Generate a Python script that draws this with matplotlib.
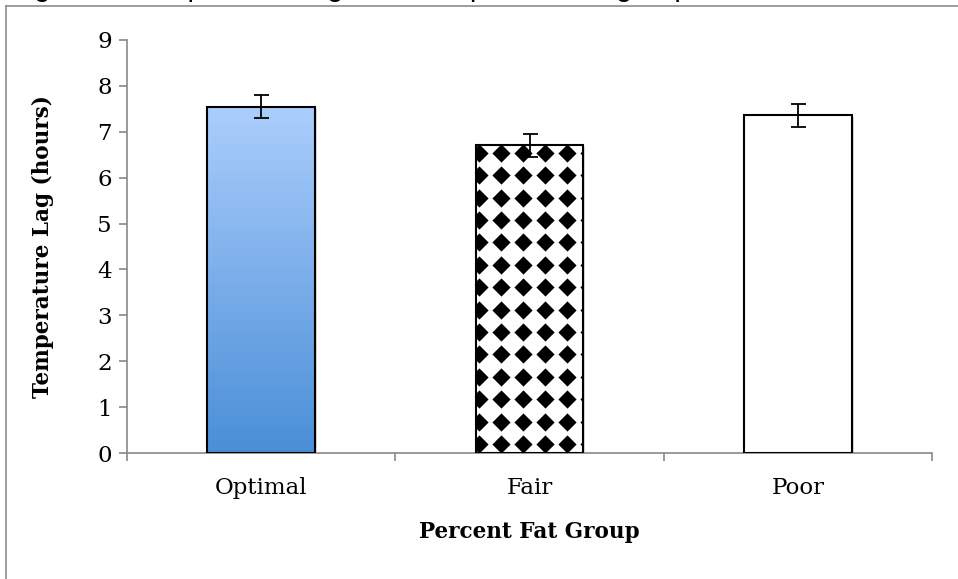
import matplotlib
matplotlib.use('Agg')
import matplotlib.pyplot as plt
import numpy as np
from matplotlib import patheffects as pe
from matplotlib.lines import Line2D
from matplotlib.colors import LinearSegmentedColormap

# ---- data ----
categories = ['Optimal', 'Fair', 'Poor']
values = [7.55, 6.71, 7.36]
errors = [0.25, 0.25, 0.25]
y_ticks = [0, 1, 2, 3, 4, 5, 6, 7, 8, 9]
title_text = 'Figure 3: Temperature lag between percent fat groups'
x_label = 'Percent Fat Group'
y_label = 'Temperature Lag (hours)'

plt.rcParams['font.family'] = ['DejaVu Serif']

W, H = 958, 579
fig = plt.figure(figsize=(W / 100, H / 100), dpi=100)
ax = fig.add_axes([127 / W, 126 / H, 805 / W, 413 / H])

x = np.arange(len(categories))
width = 0.4
shadow = [pe.SimplePatchShadow(offset=(1.5, -1.5), shadow_rgbFace='#9a9a9a', alpha=0.35), pe.Normal()]
bars = ax.bar(x, values, width, color='white', edgecolor='none', zorder=2, path_effects=shadow)

# gradient fill for first bar
b0 = bars[0]
cmap = LinearSegmentedColormap.from_list('blu', ['#4a8ed7', '#abcefc'])
grad = np.linspace(0, 1, 256).reshape(-1, 1)
im = ax.imshow(grad, extent=[b0.get_x(), b0.get_x() + b0.get_width(), 0, b0.get_height()],
               origin='lower', aspect='auto', cmap=cmap, zorder=2.2, interpolation='bilinear')
im.set_clip_path(b0)

# diamond pattern for second bar
b1 = bars[1]
dx, dy = 0.0821, 0.488
xs = np.arange(b1.get_x() + 0.012, b1.get_x() + b1.get_width() + dx, dx)
ys = np.arange(b1.get_height() - 0.17, -dy, -dy)
X, Y = np.meshgrid(xs, ys)
sc = ax.scatter(X.ravel(), Y.ravel(), marker='D', s=86, c='black', linewidths=0, zorder=2.3)
sc.set_clip_path(b1)

# bar outlines
ax.bar(x, values, width, facecolor='none', edgecolor='black', linewidth=1.5, zorder=3)

ax.errorbar(x, values, yerr=errors, fmt='none', ecolor='black', elinewidth=1.3,
            capsize=5.4, capthick=1.3, zorder=4)

ax.set_xlim(-0.5, len(categories) - 0.5)
ax.set_ylim(0, 9)
for s in ['top', 'right']:
    ax.spines[s].set_visible(False)
for s in ['left', 'bottom']:
    ax.spines[s].set_color('#898989')
    ax.spines[s].set_linewidth(1.2)

ax.set_yticks(y_ticks)
ax.tick_params(axis='y', length=5.8, width=1.2, color='#898989', direction='out', pad=5, labelsize=16.5)
ax.set_xticks(x, categories)
ax.set_xticks(np.arange(len(categories) + 1) - 0.5, minor=True)
ax.tick_params(axis='x', which='major', length=0, pad=17, labelsize=16.5)
ax.tick_params(axis='x', which='minor', length=5.8, width=1.2, color='#898989', direction='out')

ax.set_xlabel(x_label, fontsize=15.5, fontweight='bold')
ax.xaxis.set_label_coords(0.5, -0.165)
ax.set_ylabel(y_label, fontsize=15.5, fontweight='bold')
ax.yaxis.set_label_coords(-0.0907, 0.5)

# frame lines and clipped title (the reference shows only its bottom edge)
fig.add_artist(Line2D([5.5 / W, 5.5 / W], [0, 1 - 5.5 / H], color='#8c8c8c', lw=1.2, transform=fig.transFigure))
fig.add_artist(Line2D([5.5 / W, 1], [1 - 5.5 / H, 1 - 5.5 / H], color='#8c8c8c', lw=1.2, transform=fig.transFigure))
fig.text(10 / W, 1 + 4 / H, title_text, fontsize=21, family=['Liberation Sans'], va='baseline', ha='left')

fig.savefig('out.png', dpi=100)
